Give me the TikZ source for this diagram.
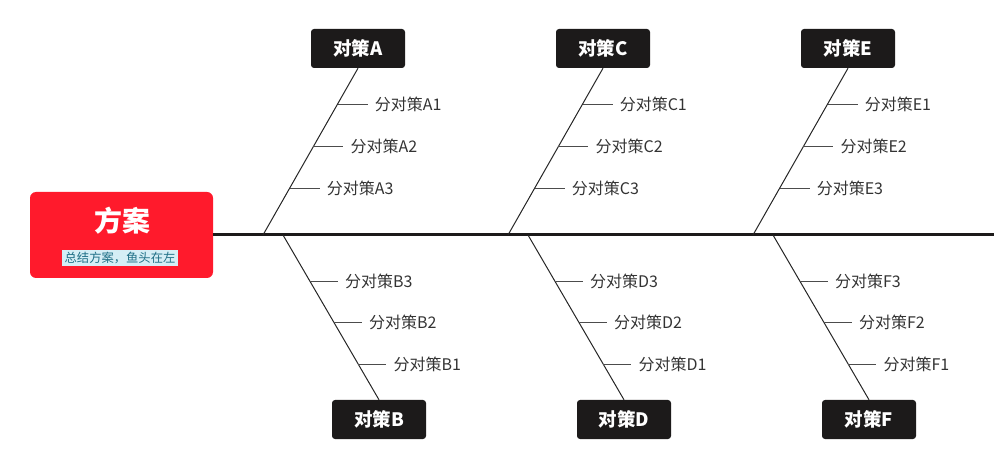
\documentclass[tikz,border=0pt]{standalone}
\usepackage{fontspec}
\newfontfamily\cjk{Noto Sans CJK SC}
\usetikzlibrary{positioning,calc}
\definecolor{headred}{HTML}{FF1A2C}
\definecolor{boxblack}{HTML}{1C1A1A}
\definecolor{tagblue}{HTML}{D5EEF6}
\definecolor{tagtext}{HTML}{1F6F86}
\tikzset{
	headbox/.style={fill=headred,rounded corners=6pt,minimum width=183pt,minimum height=86pt},
	casebox/.style={fill=boxblack,rounded corners=3pt,minimum width=94pt,minimum height=39pt,
		text=white,font=\cjk\bfseries\fontsize{18.5}{20}\selectfont},
	sublabel/.style={anchor=west,inner xsep=7pt,inner ysep=0pt,text=black!80,font=\cjk\fontsize{16}{18}\selectfont},
	bone/.style={draw=black!85,line width=1pt},
	twig/.style={draw=black!70,line width=1pt},
	spine/.style={draw=boxblack,line width=3pt}
}
\begin{document}
\begin{tikzpicture}[x=1pt,y=-1pt]
		\useasboundingbox (0,0) rectangle (994,470);
		% fish head
		\node[headbox] (head) at (121.5,235) {};
		\node[text=white,font=\cjk\bfseries\fontsize{28}{30}\selectfont] (title) at (122,221) {方案};
		\node[fill=tagblue,text=tagtext,inner xsep=2.5pt,inner ysep=2pt,font=\cjk\fontsize{12.3}{14}\selectfont] (tag) at (120,258) {总结方案，鱼头在左};
		\coordinate (tail) at (994,235);
		\draw[spine] (head.east) -- (tail);
		% bones
		\foreach \fa/\fb/\d in {A/B/0,C/D/245,E/F/490}{
			\node[casebox] (box\fa) at (358+\d,48.5) {对策\fa};
			\node[casebox] (box\fb) at (379+\d,419.5) {对策\fb};
			\coordinate (root\fa) at (263+\d,235);
			\coordinate (root\fb) at (283+\d,235);
			\draw[bone] (root\fa) -- (box\fa.south);
			\draw[bone] (root\fb) -- (box\fb.north);
			\foreach \i/\t in {1/0.785,2/0.53,3/0.28}{
				\coordinate (p\fa\i) at ($(root\fa)!\t!(box\fa.south)$);
				\node[sublabel,right=30pt of p\fa\i] (l\fa\i) {分对策\fa\i};
				\draw[twig] (p\fa\i) -- (l\fa\i.west);
				\coordinate (p\fb\i) at ($(root\fb)!\t!(box\fb.north)$);
				\node[sublabel,right=28pt of p\fb\i] (l\fb\i) {分对策\fb\i};
				\draw[twig] (p\fb\i) -- (l\fb\i.west);
			}
		}
\end{tikzpicture}
\end{document}
